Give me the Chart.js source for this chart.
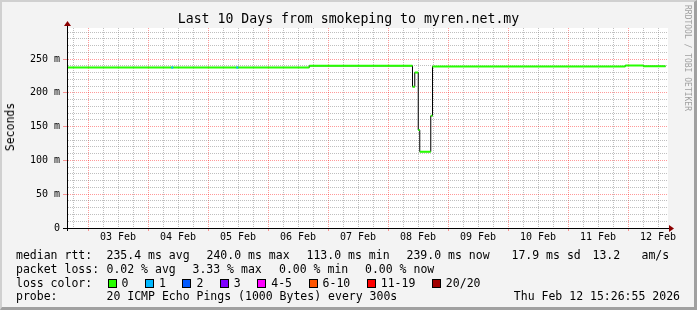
<!DOCTYPE html>
<html>
<head>
<meta charset="utf-8">
<title>Last 10 Days from smokeping to myren.net.my</title>
<script src="https://cdn.jsdelivr.net/npm/chart.js@4.4.1/dist/chart.umd.min.js"></script>
<style>
    html, body { margin: 0; padding: 0; background: #f3f3f3; }
    #wrap { position: relative; width: 697px; height: 310px; overflow: hidden; font-family: 'DejaVu Sans Mono', monospace; color: #000; }
    #frame { position: absolute; left: 0; top: 0; width: 697px; height: 310px; box-sizing: border-box; background: #f3f3f3;
             border-top: 2px solid #d0d0d0; border-left: 2px solid #d0d0d0; border-right: 3px solid #a0a0a0; border-bottom: 3px solid #a0a0a0; }
    #chart { position: absolute; left: 0; top: 0; }
    .title { position: absolute; left: 0; top: 11px; width: 697px; text-align: center; font-size: 13.2px; line-height: 16px; }
    .ylabel { position: absolute; left: 10px; top: 127px; transform: translate(-50%, -50%) rotate(-90deg); font-size: 11.5px; white-space: nowrap; }
    .mark { position: absolute; left: 683px; top: 5px; writing-mode: vertical-rl; font-size: 8px; line-height: 9px; color: #a0a0a0; white-space: nowrap; }
    .line { position: absolute; left: 0; width: 697px; height: 14px; font-size: 11.5px; line-height: 14px; white-space: pre; }
    .line span { position: absolute; top: 0; }
    .box { display: inline-block; width: 7px; height: 7px; border: 1px solid #000; margin-right: 5px; vertical-align: -1px; }
    .item { margin-right: 16.5px; font-weight: normal; }
</style>
</head>
<body>
<div id="wrap">
    <div id="frame"></div>
    <canvas id="chart" width="697" height="310"></canvas>
    <div class="title">Last 10 Days from smokeping to myren.net.my</div>
    <div class="ylabel">Seconds</div>
    <div class="mark">RRDTOOL / TOBI OETIKER</div>
    <div class="line" id="rttLine" style="top:248px"></div>
    <div class="line" id="lossLine" style="top:262px"></div>
    <div class="line" id="colorLine" style="top:276px"></div>
    <div class="line" id="probeLine" style="top:289px"></div>
</div>
<script>
// time axis: hours since 02 Feb 00:00
const xStart = 15.6;
const xEnd = 256.0;

// x axis labels (placed at noon)
const dayLabels = ['03 Feb', '04 Feb', '05 Feb', '06 Feb', '07 Feb', '08 Feb', '09 Feb', '10 Feb', '11 Feb', '12 Feb'];

// y axis labels (every 50 m)
const yTickLabels = ['0', '50 m', '100 m', '150 m', '200 m', '250 m'];

// median rtt steps (ms): level starting at each hour, last entry closes the line
const stepHours = [15.6, 112.5, 153.8, 154.7, 156.1, 156.7, 161.1, 161.8, 238.9, 246.1, 255.0];
const medianRtt = [237.6, 240.0, 209.0, 230.0, 145.0, 113.0, 166.0, 239.0, 240.5, 239.3, 239.3];

// short periods with 1/20 lost pings
const loss1Hours = [57.3, 83.3];
const loss1Rtt = [237.6, 237.6];

// legend texts
const rttStats = ['235.4 ms avg', '240.0 ms max', '113.0 ms min', '239.0 ms now', '17.9 ms sd', '13.2', 'am/s'];
const rttStatX = [106.5, 206.5, 306.5, 406.5, 511.5, 592.5, 641.5];
const lossStats = ['0.02 % avg', '3.33 % max', '0.00 % min', '0.00 % now'];
const lossStatX = [106.5, 192.5, 279, 365];
const lossBins = ['0', '1', '2', '3', '4-5', '6-10', '11-19', '20/20'];
const lossColors = ['#26ff00', '#00b8ff', '#0059ff', '#7e00ff', '#ff00ff', '#ff5500', '#ff0000', '#a10000'];
const probeText = '20 ICMP Echo Pings (1000 Bytes) every 300s';
const stampText = 'Thu Feb 12 15:26:55 2026';

const majorGrid = 'rgba(255, 0, 0, 0.4)';
const minorGrid = 'rgba(128, 128, 128, 0.5)';

// horizontal pieces of the median, one per step
function buildSegments(hours, values) {
    const pts = [];
    for (let i = 0; i < hours.length - 1; i++) {
        pts.push({ x: hours[i], y: values[i] });
        pts.push({ x: hours[i + 1], y: values[i] });
        pts.push({ x: hours[i + 1], y: null });
    }
    return pts;
}

// short marks for loss periods
function buildMarks(hours, values, len) {
    const pts = [];
    hours.forEach((h, i) => {
        pts.push({ x: h, y: values[i] }, { x: h + len, y: values[i] }, { x: h + len, y: null });
    });
    return pts;
}

// white plot background and the axis arrows
const plotFrame = {
    id: 'plotFrame',
    beforeDraw(chart) {
        const { ctx, chartArea: a } = chart;
        ctx.save();
        ctx.fillStyle = '#ffffff';
        ctx.fillRect(a.left, a.top, a.right - a.left, a.bottom - a.top);
        ctx.restore();
    },
    afterDraw(chart) {
        const { ctx, chartArea: a } = chart;
        ctx.save();
        ctx.strokeStyle = '#000';
        ctx.lineWidth = 1;
        ctx.beginPath();
        ctx.moveTo(a.left + 0.5, a.top - 4);
        ctx.lineTo(a.left + 0.5, a.bottom + 3);
        ctx.moveTo(a.right, a.bottom + 0.5);
        ctx.lineTo(a.right + 3, a.bottom + 0.5);
        ctx.stroke();
        ctx.fillStyle = '#8b0000';
        ctx.beginPath();
        ctx.moveTo(a.left + 0.5, a.top - 7);
        ctx.lineTo(a.left - 3, a.top - 2);
        ctx.lineTo(a.left + 4, a.top - 2);
        ctx.closePath();
        ctx.fill();
        ctx.beginPath();
        ctx.moveTo(a.right + 6, a.bottom + 0.5);
        ctx.lineTo(a.right + 1, a.bottom - 3);
        ctx.lineTo(a.right + 1, a.bottom + 4);
        ctx.closePath();
        ctx.fill();
        ctx.restore();
    }
};

// fill the text lines under the chart
function buildLegend() {
    const rttLine = document.getElementById('rttLine');
    rttLine.innerHTML = '<span style="left:16px">median rtt:</span>' +
        rttStats.map((s, i) => `<span style="left:${rttStatX[i]}px">${s}</span>`).join('');

    const lossLine = document.getElementById('lossLine');
    lossLine.innerHTML = '<span style="left:16px">packet loss:</span>' +
        lossStats.map((s, i) => `<span style="left:${lossStatX[i]}px">${s}</span>`).join('');

    const colorLine = document.getElementById('colorLine');
    colorLine.innerHTML = '<span style="left:16px">loss color:</span><span style="left:107.5px">' +
        lossBins.map((b, i) => `<i class="box" style="background:${lossColors[i]}"></i><b class="item">${b}</b>`).join('') +
        '</span>';

    const probeLine = document.getElementById('probeLine');
    probeLine.innerHTML = '<span style="left:16px">probe:</span>' +
        `<span style="left:106.5px">${probeText}</span>` +
        `<span style="right:17px">${stampText}</span>`;
}

// draw the chart
function createRttChart() {
    const ctx = document.getElementById('chart').getContext('2d');
    const medianPoints = stepHours.map((h, i) => ({ x: h, y: medianRtt[i] }));

    new Chart(ctx, {
        type: 'line',
        data: {
            datasets: [{
                label: 'median rtt',
                data: medianPoints,
                stepped: true,
                borderColor: '#000000',
                borderWidth: 1,
                pointRadius: 0,
                order: 3
            }, {
                label: 'loss 0',
                data: buildSegments(stepHours, medianRtt),
                borderColor: lossColors[0],
                borderWidth: 2,
                pointRadius: 0,
                spanGaps: false,
                order: 2
            }, {
                label: 'loss 1',
                data: buildMarks(loss1Hours, loss1Rtt, 0.8),
                borderColor: lossColors[1],
                borderWidth: 2,
                pointRadius: 0,
                spanGaps: false,
                order: 1
            }]
        },
        options: {
            responsive: false,
            animation: false,
            layout: {
                padding: { left: 0, top: 28, right: 29, bottom: 0 }
            },
            plugins: {
                legend: { display: false },
                tooltip: { enabled: false }
            },
            scales: {
                x: {
                    type: 'linear',
                    min: xStart,
                    max: xEnd,
                    afterBuildTicks: scale => {
                        const ticks = [];
                        for (let h = 18; h <= xEnd; h += 6) ticks.push({ value: h });
                        scale.ticks = ticks;
                    },
                    afterFit: scale => { scale.height = 82; },
                    grid: {
                        color: c => (c.tick && c.tick.value % 24 === 0) ? majorGrid : minorGrid,
                        tickColor: c => (c.tick && c.tick.value % 24 === 0) ? majorGrid : 'rgba(0,0,0,0)',
                        tickLength: 3
                    },
                    border: { color: '#000', width: 1, dash: [1, 1] },
                    ticks: {
                        autoSkip: false,
                        maxRotation: 0,
                        padding: 0,
                        color: '#000',
                        font: { family: 'DejaVu Sans Mono', size: 10 },
                        callback: value => (value - 12) % 24 === 0 ? dayLabels[(value - 36) / 24] : ''
                    }
                },
                y: {
                    min: 0,
                    max: 296,
                    afterFit: scale => { scale.width = 67; },
                    grid: {
                        color: c => (c.tick && c.tick.value % 50 === 0) ? majorGrid : minorGrid,
                        tickColor: c => {
                            if (!c.tick) return 'rgba(0,0,0,0)';
                            if (c.tick.value === 0) return '#000';
                            return c.tick.value % 50 === 0 ? majorGrid : 'rgba(0,0,0,0)';
                        },
                        tickLength: 4
                    },
                    border: { color: '#000', width: 1, dash: [1, 1] },
                    ticks: {
                        stepSize: 10,
                        includeBounds: false,
                        autoSkip: false,
                        padding: 3,
                        color: '#000',
                        font: { family: 'DejaVu Sans Mono', size: 10 },
                        callback: value => value % 50 === 0 ? yTickLabels[value / 50] : ''
                    }
                }
            }
        },
        plugins: [plotFrame]
    });
}

document.addEventListener('DOMContentLoaded', () => {
    buildLegend();
    createRttChart();
});
</script>
</body>
</html>
